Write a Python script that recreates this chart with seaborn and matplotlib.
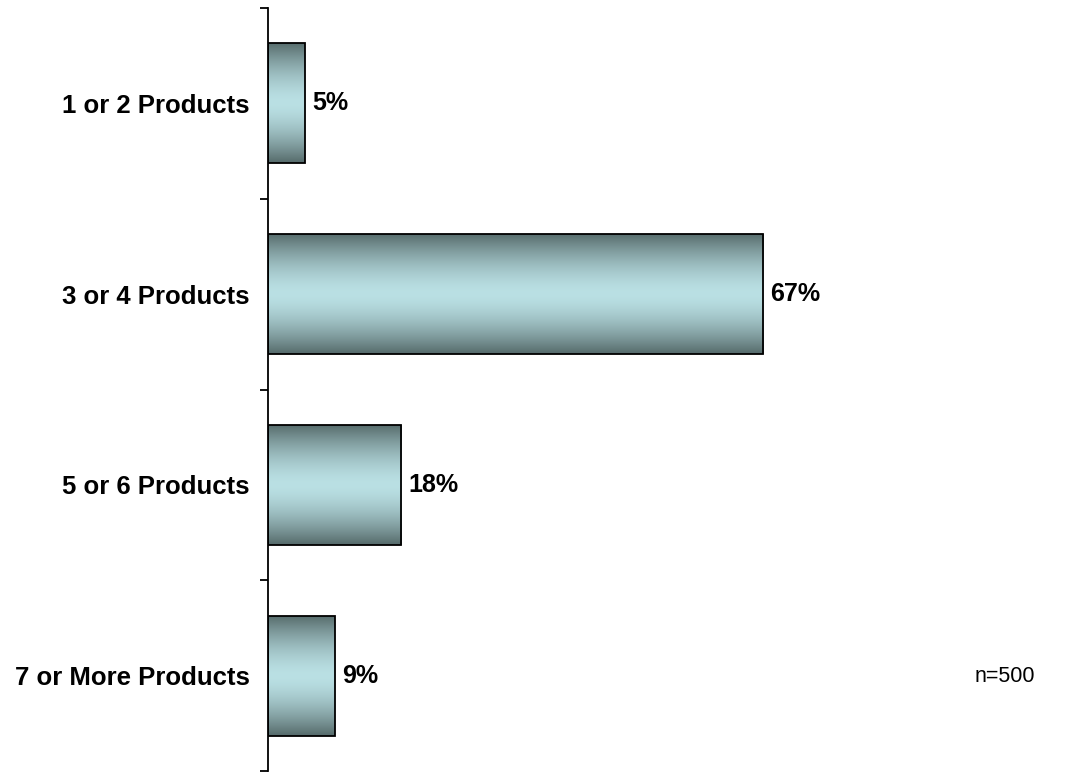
import numpy as np
import pandas as pd
import matplotlib
matplotlib.use("Agg")
import matplotlib.pyplot as plt
import seaborn as sns

categories = ["1 or 2 Products", "3 or 4 Products", "5 or 6 Products", "7 or More Products"]
shares = [5, 67, 18, 9]
sample_note = "n=500"

df = pd.DataFrame({"category": categories, "share": shares})

sns.set_theme(style="white")
plt.rcParams["font.family"] = ["Liberation Sans", "DejaVu Sans"]

W, H = 1065, 772
fig = plt.figure(figsize=(W / 100, H / 100), dpi=100)
ax = fig.add_axes([268 / W, 1 / H, 739 / W, 763 / H])

sns.barplot(data=df, x="share", y="category", orient="h", ax=ax,
            width=0.63, color="#b8dfe3", edgecolor="black", linewidth=1.3)

# vertical metallic gradient: dark at the edges, pale cyan in the middle
dark = np.array([0x55, 0x6a, 0x6a]) / 255
light = np.array([0xba, 0xe0, 0xe4]) / 255
t = np.linspace(-1, 1, 256)
mix = np.abs(t) ** 1.6
grad = (light[None, :] * (1 - mix[:, None]) + dark[None, :] * mix[:, None])[:, None, :]
for patch in ax.patches:
    x0, y0 = patch.get_x(), patch.get_y()
    w, h = patch.get_width(), patch.get_height()
    patch.set_facecolor("none")
    img = ax.imshow(grad, aspect="auto", interpolation="bilinear",
                    extent=[x0, x0 + w, y0 + h, y0], zorder=patch.get_zorder() - 0.1)
    img.set_clip_path(patch)

ax.set_xlim(0, 100)
ax.set_ylim(3.5, -0.5)

for i, v in enumerate(shares):
    ax.text(v + 1.0, i, f"{v}%", va="center", ha="left",
            fontsize=18, fontweight="bold", color="black")

for s in ["top", "right", "bottom"]:
    ax.spines[s].set_visible(False)
ax.spines["left"].set_color("black")
ax.spines["left"].set_linewidth(1.3)

ax.set_xticks([])
ax.set_xlabel("")
ax.set_ylabel("")
ax.set_yticks(range(len(categories)))
ax.set_yticklabels(categories, fontsize=18.5, fontweight="bold", color="black")
ax.tick_params(axis="y", which="major", left=False, length=0, pad=13)
ax.set_yticks(np.arange(-0.5, len(categories), 1.0), minor=True)
ax.tick_params(axis="y", which="minor", left=True, length=6, width=1.3,
               color="black", direction="out")

fig.text(1035 / W, 1 - 677 / H, sample_note, ha="right", va="center",
         fontsize=15.5, color="black")

fig.savefig("out.png", dpi=100, facecolor="white")
